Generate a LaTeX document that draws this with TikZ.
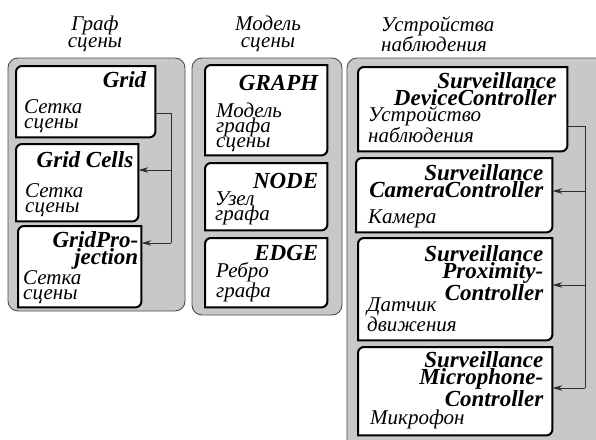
\documentclass[tikz,border=0pt]{standalone}
\usepackage{fontspec}
\setmainfont{Liberation Serif}
\usepackage{xcolor}
\usetikzlibrary{arrows.meta,positioning}

\definecolor{panelgray}{RGB}{200,200,200}
\definecolor{linkgray}{RGB}{45,45,45}

\begin{document}
\begin{tikzpicture}[
  x=1pt, y=-1pt,
  >={Stealth[length=10pt,width=5.5pt]},
  panel/.style={draw=black!70, fill=panelgray, line width=0.9pt,
                rounded corners=10pt},
  card/.style={anchor=north west, inner sep=0pt,
    append after command={\pgfextra{
      \draw[fill=white, draw=black, line width=2pt]
      (\tikzlastnode.south west)
      -- ([yshift=-6pt]\tikzlastnode.north west)
      arc[start angle=180, end angle=90, radius=6pt]
      -- (\tikzlastnode.north east)
      -- ([yshift=6pt]\tikzlastnode.south east)
      arc[start angle=0, end angle=-90, radius=6pt]
      -- cycle;}}},
  ttl/.style={inner sep=0pt, align=right,
              font=\bfseries\itshape\fontsize{23}{17.5}\selectfont},
  dsc/.style={inner sep=0pt, align=left, text depth=0pt,
              font=\itshape\fontsize{21}{15}\selectfont},
  head/.style={inner sep=0pt, font=\itshape\fontsize{21}{17}\selectfont},
  link/.style={draw=linkgray, line width=1pt},
]
  \clip (0,0) rectangle (596,439);

  % headings
  \node[head, align=center] (hgraph) at (95,34) {Граф\\сцены};
  \node[head, align=center] (hmodel) at (268,34) {Модель\\сцены};
  \node[head, align=left, anchor=west] (hdev) at (381,34)
    {Устройства\\наблюдения};

  % panels
  \draw[panel] (8,58) rectangle (185,311);
  \draw[panel] (192,58) rectangle (342,315);
  \draw[panel] (347,58) rectangle (640,470);

  % scene graph
  \node[card, minimum width=139, minimum height=71] (grid) at (16,66) {};
  \node[ttl, below left=5pt and 9pt of grid.north east] (gridT) {Grid};
  \node[dsc, above right=9pt and 8pt of grid.south west] (gridD)
    {Сетка\\сцены};

  \node[card, minimum width=122, minimum height=77] (gc) at (16,144) {};
  \node[ttl, below left=7pt and 5pt of gc.north east] (gcT) {Grid Cells};
  \node[dsc, above right=9pt and 9pt of gc.south west] (gcD)
    {Сетка\\сцены};

  \node[card, minimum width=123, minimum height=81] (gp) at (18,226) {};
  \node[ttl, below left=5pt and 3pt of gp.north east] (gpT)
    {GridPro-\\jection};
  \node[dsc, above right=8pt and 5pt of gp.south west] (gpD)
    {Сетка\\сцены};

  \coordinate (g1) at (171,113);
  \coordinate (g2) at (171,170);
  \coordinate (g3) at (171,243);
  \draw[link] (grid.east |- g1) -- (g1) -- (g3);
  \draw[link, ->] (g2) -- (gc.east |- g2);
  \draw[link, ->] (g3) -- (gp.east |- g3);

  % scene model
  \node[card, minimum width=122, minimum height=90] (graph) at (205,65) {};
  \node[ttl, below left=10pt and 9pt of graph.north east] (graphT) {GRAPH};
  \node[dsc, above right=8pt and 11pt of graph.south west] (graphD)
    {Модель\\графа\\сцены};

  \node[card, minimum width=122, minimum height=67] (nd) at (205,163) {};
  \node[ttl, below left=10pt and 9pt of nd.north east] (ndT) {NODE};
  \node[dsc, above right=10pt and 10pt of nd.south west] (ndD)
    {Узел\\графа};

  \node[card, minimum width=122, minimum height=69] (edge) at (205,238) {};
  \node[ttl, below left=7pt and 9pt of edge.north east] (edgeT) {EDGE};
  \node[dsc, above right=10pt and 11pt of edge.south west] (edgeD)
    {Ребро\\графа};

  % surveillance devices
  \node[card, minimum width=209, minimum height=84] (dev) at (358,67) {};
  \node[ttl, below left=5pt and 11pt of dev.north east] (devT)
    {Surveillance\\DeviceController};
  \node[dsc, above right=9pt and 10pt of dev.south west] (devD)
    {Устройство\\наблюдения};

  \node[card, minimum width=196, minimum height=74] (cam) at (356,158) {};
  \node[ttl, below left=6pt and 9pt of cam.north east] (camT)
    {Surveillance\\CameraController};
  \node[dsc, above right=9pt and 12pt of cam.south west] (camD) {Камера};

  \node[card, minimum width=194, minimum height=102] (prox) at (358,238) {};
  \node[ttl, below left=7pt and 9pt of prox.north east] (proxT)
    {Surveillance\\Proximity-\\Controller};
  \node[dsc, above right=9pt and 9pt of prox.south west] (proxD)
    {Датчик\\движения};

  \node[card, minimum width=194, minimum height=88] (mic) at (358,347) {};
  \node[ttl, below left=4pt and 9pt of mic.north east] (micT)
    {Surveillance\\Microphone-\\Controller};
  \node[dsc, above right=11pt and 12pt of mic.south west] (micD) {Микрофон};

  \coordinate (d1) at (585,126);
  \coordinate (d2) at (585,191);
  \coordinate (d3) at (585,285);
  \coordinate (d4) at (585,388);
  \draw[link] (dev.east |- d1) -- (d1) -- (d4);
  \draw[link, ->] (d2) -- (cam.east |- d2);
  \draw[link, ->] (d3) -- (prox.east |- d3);
  \draw[link, ->] (d4) -- (mic.east |- d4);
\end{tikzpicture}
\end{document}
